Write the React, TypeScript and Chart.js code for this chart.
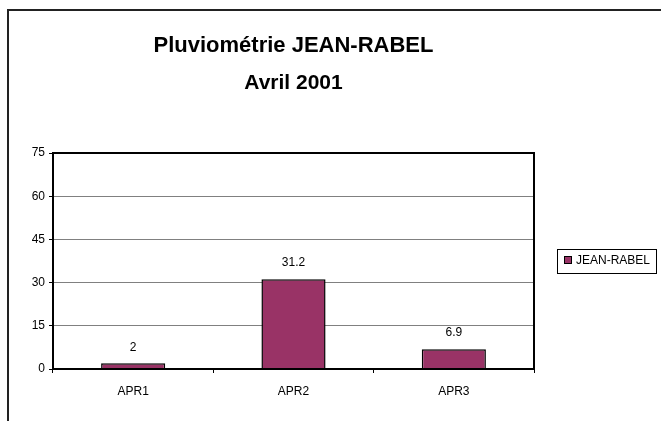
import React, { useEffect, useRef } from "react";
import { Chart, registerables } from "chart.js";

Chart.register(...registerables);

const categories = ["APR1", "APR2", "APR3"];
const seriesName = "JEAN-RABEL";
const values = [2, 31.2, 6.9];
const yMin = 0;
const yMax = 75;
const yStep = 15;
const titleLines = ["Pluviométrie JEAN-RABEL", "Avril 2001"];

const FONT = "'Liberation Sans', Arial, Helvetica, sans-serif";
const BAR_COLOR = "#993366";

const decorations = {
  id: "decorations",
  beforeDraw(chart: any) {
    const ctx = chart.ctx;
    ctx.save();
    ctx.fillStyle = "#ffffff";
    ctx.fillRect(0, 0, chart.width, chart.height);
    ctx.strokeStyle = "#222222";
    ctx.lineWidth = 2;
    ctx.beginPath();
    ctx.moveTo(8, chart.height + 5);
    ctx.lineTo(8, 10);
    ctx.lineTo(chart.width - 1, 10);
    ctx.stroke();
    ctx.restore();
  },
  afterDatasetsDraw(chart: any) {
    const ctx = chart.ctx;
    const a = chart.chartArea;
    ctx.save();
    ctx.strokeStyle = "#000000";
    ctx.lineWidth = 2;
    ctx.strokeRect(a.left, a.top, a.right - a.left, a.bottom - a.top);
    const meta = chart.getDatasetMeta(0);
    ctx.fillStyle = "#000000";
    ctx.font = `12px ${FONT}`;
    ctx.textAlign = "center";
    ctx.textBaseline = "middle";
    meta.data.forEach((el: any, i: number) => {
      ctx.fillText(String(values[i]), el.x, el.y - 16);
    });
    ctx.restore();
  },
  afterDraw(chart: any) {
    const ctx = chart.ctx;
    const a = chart.chartArea;
    const cx = (a.left + a.right) / 2;
    ctx.save();
    ctx.fillStyle = "#000000";
    ctx.textAlign = "center";
    ctx.textBaseline = "middle";
    ctx.font = `bold 22px ${FONT}`;
    ctx.fillText(titleLines[0], cx, 46);
    ctx.font = `bold 21px ${FONT}`;
    ctx.fillText(titleLines[1], cx, 83);
    // legend
    const lx = 557, ly = 249, lw = 99, lh = 24;
    ctx.lineWidth = 1;
    ctx.strokeStyle = "#000000";
    ctx.strokeRect(lx + 0.5, ly + 0.5, lw, lh);
    ctx.fillStyle = BAR_COLOR;
    ctx.fillRect(564, 256, 8, 8);
    ctx.strokeRect(564.5, 256.5, 7, 7);
    ctx.fillStyle = "#000000";
    ctx.textAlign = "left";
    ctx.font = `12px ${FONT}`;
    ctx.fillText(seriesName, 576, 261);
    ctx.restore();
  },
};

export default function App() {
  const ref = useRef<HTMLCanvasElement | null>(null);
  useEffect(() => {
    if (!ref.current) return;
    const chart = new Chart(ref.current, {
      type: "bar",
      data: {
        labels: categories,
        datasets: [
          {
            label: seriesName,
            data: values,
            backgroundColor: BAR_COLOR,
            borderColor: "#000000",
            borderWidth: 1.5,
            barPercentage: 0.4,
            categoryPercentage: 1,
          },
        ],
      },
      options: {
        animation: false,
        responsive: false,
        devicePixelRatio: 1,
        layout: { padding: { left: 0, top: 153, right: 128, bottom: 22 } },
        plugins: {
          legend: { display: false },
          title: { display: false },
          tooltip: { enabled: false },
        },
        scales: {
          x: {
            offset: true,
            grid: {
              offset: true,
              drawOnChartArea: false,
              drawTicks: true,
              tickLength: 4,
              tickColor: "#000000",
            },
            border: { display: true, color: "#000000", width: 2 },
            ticks: {
              color: "#000000",
              padding: 11,
              font: { family: FONT, size: 12 },
            },
            afterFit(scale: any) {
              scale.height = 30;
            },
          },
          y: {
            min: yMin,
            max: yMax,
            ticks: {
              stepSize: yStep,
              color: "#000000",
              padding: 4,
              font: { family: FONT, size: 12 },
            },
            grid: {
              color: "#808080",
              lineWidth: 1,
              tickLength: 4,
              tickColor: "#000000",
            },
            border: { display: true, color: "#000000", width: 2 },
            afterFit(scale: any) {
              scale.width = 53;
            },
          },
        },
      },
      plugins: [decorations],
    });
    return () => chart.destroy();
  }, []);
  return (
    <canvas
      ref={ref}
      width={662}
      height={421}
      style={{ position: "absolute", left: 0, top: 0, display: "block" }}
    />
  );
}
